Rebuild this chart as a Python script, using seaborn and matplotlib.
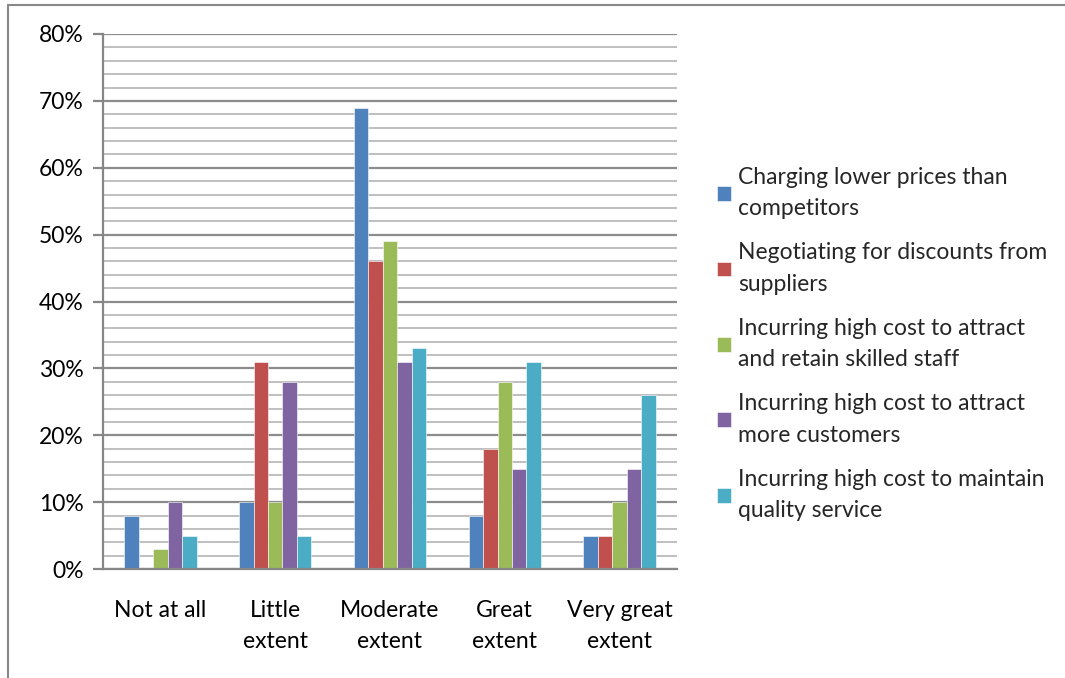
import matplotlib
matplotlib.use("Agg")
import matplotlib.pyplot as plt
from matplotlib.lines import Line2D
from matplotlib.ticker import MultipleLocator, FuncFormatter
import seaborn as sns
import pandas as pd

categories = ["Not at all", "Little\nextent", "Moderate\nextent", "Great\nextent", "Very great\nextent"]
series = [
    "Charging lower prices than\ncompetitors",
    "Negotiating for discounts from\nsuppliers",
    "Incurring high cost to attract\nand retain skilled staff",
    "Incurring high cost to attract\nmore customers",
    "Incurring high cost to maintain\nquality service",
]
lower_prices = [8, 10, 69, 8, 5]
discounts = [0, 31, 46, 18, 5]
skilled_staff = [3, 10, 49, 28, 10]
more_customers = [10, 28, 31, 15, 15]
quality_service = [5, 5, 33, 31, 26]
colors = ["#4F81BD", "#C0504D", "#9BBB59", "#8064A2", "#4BACC6"]

rows = []
for name, vals in zip(series, [lower_prices, discounts, skilled_staff, more_customers, quality_service]):
    for cat, v in zip(categories, vals):
        rows.append({"category": cat, "series": name, "value": v})
df = pd.DataFrame(rows)

sns.set_theme(style="white")
plt.rcParams["font.family"] = ["Lato", "DejaVu Sans"]

FS = 16.5
LS = 1.62

fig = plt.figure(figsize=(10.65, 6.78), dpi=100)
ax = fig.add_axes([103 / 1065, 1 - 569 / 678, (677 - 103) / 1065, (569 - 34) / 678])

sns.barplot(data=df, x="category", y="value", hue="series", order=categories,
            hue_order=series, palette=colors, width=0.63, saturation=1,
            edgecolor="white", linewidth=0.4, ax=ax, legend=True)

ax.set_ylim(0, 80)
ax.set_xlim(-0.5, 4.5)
ax.yaxis.set_major_locator(MultipleLocator(10))
ax.yaxis.set_minor_locator(MultipleLocator(2))
ax.yaxis.set_major_formatter(FuncFormatter(lambda v, p: f"{int(v)}%"))
ax.grid(True, which="major", axis="y", color="#8C8C8C", linewidth=1.6)
ax.grid(True, which="minor", axis="y", color="#BFBFBF", linewidth=1.4)
ax.set_axisbelow(True)

for s in ["top", "right"]:
    ax.spines[s].set_visible(False)
for s in ["left", "bottom"]:
    ax.spines[s].set_color("#868686")
    ax.spines[s].set_linewidth(1.6)

ax.tick_params(axis="y", which="major", left=True, length=7, width=1.6, color="#868686",
               labelsize=FS, pad=7, labelcolor="black")
ax.tick_params(axis="y", which="minor", left=False)
ax.tick_params(axis="x", bottom=False, labelsize=FS, pad=16, labelcolor="black")
ax.set_xlabel("")
ax.set_ylabel("")
for t in ax.get_xticklabels():
    t.set_linespacing(LS)

handles, labels = ax.get_legend_handles_labels()
ax.get_legend().remove()
leg = fig.legend(handles, labels, loc="center left", bbox_to_anchor=(717 / 1065, 1 - 344 / 678),
                 frameon=False, fontsize=FS, handlelength=0.62, handleheight=0.62,
                 handletextpad=0.3, labelspacing=1.0, borderaxespad=0, borderpad=0)
for t in leg.get_texts():
    t.set_linespacing(LS)

# outer chart border (left and top edges)
fig.add_artist(Line2D([8 / 1065, 8 / 1065], [0, 1 - 5 / 678], transform=fig.transFigure,
                      color="#888888", linewidth=1.5))
fig.add_artist(Line2D([8 / 1065, 1], [1 - 5 / 678, 1 - 5 / 678], transform=fig.transFigure,
                      color="#888888", linewidth=1.5))

fig.savefig("out.png", dpi=100)
